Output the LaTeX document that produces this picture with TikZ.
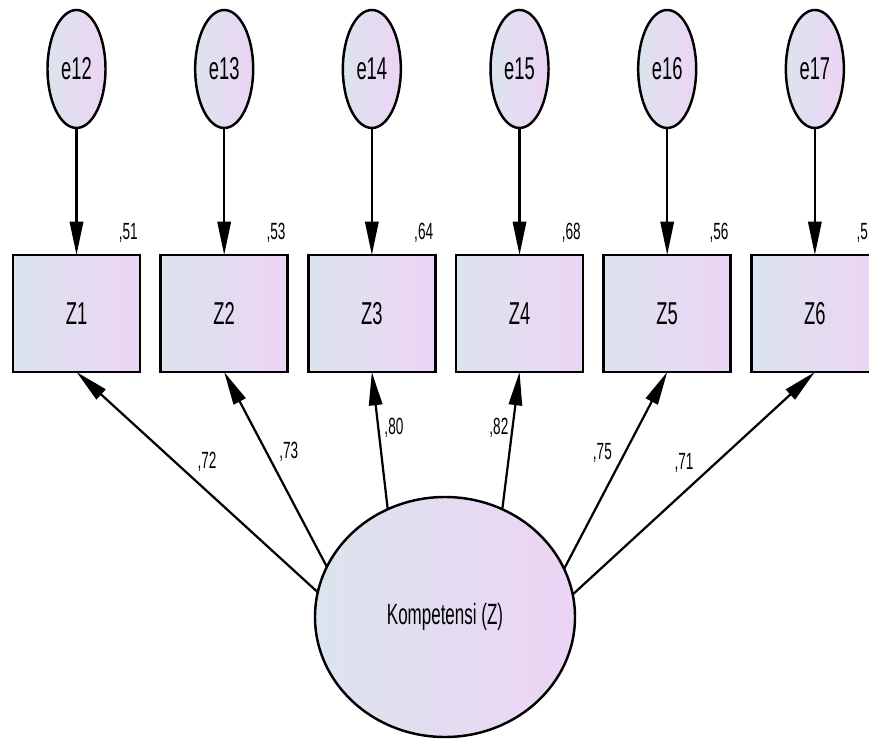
\documentclass[tikz,border=0pt]{standalone}
\usepackage{fontspec}
\newfontfamily\amosfont{Liberation Sans}[FakeStretch=0.58]
\usepackage{xcolor}
\usetikzlibrary{arrows.meta,positioning,shapes.geometric}

\definecolor{varleft}{RGB}{220,228,238}
\definecolor{varright}{RGB}{236,212,244}

\begin{document}
\begin{tikzpicture}[
  x=0.03cm, y=-0.03cm,
  node distance=0.62cm,
  var/.style={draw, line width=2.1pt, outer sep=0pt, inner sep=0pt, left color=varleft, right color=varright, font=\amosfont\fontsize{27}{31}\selectfont},
  obs/.style={var, rectangle, minimum width=3.81cm, minimum height=3.51cm},
  err/.style={var, ellipse, minimum width=1.74cm, minimum height=3.54cm},
  latent/.style={var, ellipse, minimum width=7.8cm, minimum height=7.2cm, font=\amosfont\fontsize{25}{29}\selectfont},
  arrow/.style={-{Triangle[length=1cm,width=0.4cm]}, line width=1.9pt},
  coef/.style={inner sep=0pt, font=\amosfont\fontsize{20}{24}\selectfont}
]
  \path[use as bounding box, clip] (0,0) rectangle (869,740);

  % Indicators
  \node[obs] (z1) at (76.5,313.5) {Z1};
  \node[obs, right=of z1] (z2) {Z2};
  \node[obs, right=of z2] (z3) {Z3};
  \node[obs, right=of z3] (z4) {Z4};
  \node[obs, right=of z4] (z5) {Z5};
  \node[obs, right=of z5] (z6) {Z6};

  % Error terms
  \foreach \i/\e in {1/12,2/13,3/14,4/15,5/16,6/17} {
    \node[err, above=3.81cm of z\i] (e\e) {e\e};
    \draw[arrow] (e\e) -- (z\i);
  }

  % Squared multiple correlations
  \foreach \i/\r in {1/51,2/53,3/64,4/68,5/56}
    \node[coef, anchor=base east] (r\i) at ([xshift=-0.06cm, yshift=0.45cm]z\i.north east) {,\r};
  \node[coef, anchor=base west] (r6) at ([xshift=-0.66cm, yshift=0.45cm]z6.north east) {,5};

  % Latent variable
  \node[latent] (kz) at (445,617) {Kompetensi (Z)};

  % Loadings
  \draw[arrow] (kz.169.4) -- node[coef, pos=.59, anchor=west, xshift=0.63cm] (l1) {,72} (z1.south);
  \draw[arrow] (kz.157.8) -- node[coef, pos=.59, anchor=west, xshift=0.36cm] (l2) {,73} (z2.south);
  \draw[arrow] (kz.118) -- node[coef, pos=.59, anchor=west, xshift=0.15cm] (l3) {,80} (z3.south);
  \draw[arrow] (kz.62) -- node[coef, pos=.59, anchor=east, xshift=-0.09cm] (l4) {,82} (z4.south);
  \draw[arrow] (kz.22.2) -- node[coef, pos=.59, anchor=east, xshift=-0.36cm] (l5) {,75} (z5.south);
  \draw[arrow] (kz.10.6) -- node[coef, pos=.59, anchor=east, xshift=-0.63cm] (l6) {,71} (z6.south);
\end{tikzpicture}
\end{document}
